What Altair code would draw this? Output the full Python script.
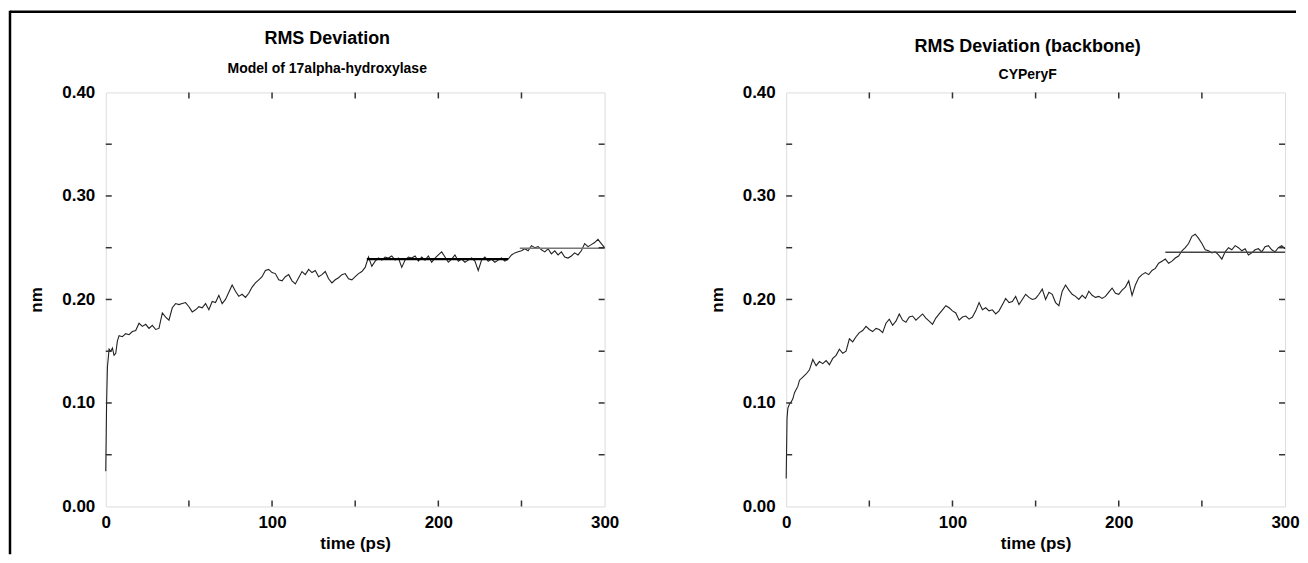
import altair as alt
import pandas as pd

# ---------------- data ----------------
T1 = [0, 0.5, 1, 2, 3, 4, 5, 6, 7, 8, 10, 12, 14, 16, 18, 20, 22, 24, 26, 28, 30,
      32, 34, 36, 38, 40, 42, 44, 46, 48, 50, 52, 54, 56, 58, 60, 62, 64, 66, 68, 70,
      72, 74, 76, 78, 80, 82, 84, 86, 88, 90, 92, 94, 96, 98, 100, 102, 104, 106, 108, 110,
      112, 114, 116, 118, 120, 122, 124, 126, 128, 130, 132, 134, 136, 138, 140, 142, 144, 146, 148, 150,
      152, 154, 156, 158, 160, 162, 164, 166, 168, 170, 172, 174, 176, 178, 180, 182, 184, 186, 188, 190,
      192, 194, 196, 198, 200, 202, 204, 206, 208, 210, 212, 214, 216, 218, 220, 222, 224, 226, 228, 230,
      232, 234, 236, 238, 240, 242, 244, 246, 248, 250, 252, 254, 256, 258, 260, 262, 264, 266, 268, 270,
      272, 274, 276, 278, 280, 282, 284, 286, 288, 290, 292, 294, 296, 298, 300]
V1 = [0.034, 0.100, 0.135, 0.152, 0.150, 0.153, 0.146, 0.148, 0.160, 0.165, 0.164, 0.167, 0.166, 0.169, 0.170, 0.177, 0.174, 0.176, 0.172, 0.175, 0.171,
      0.172, 0.187, 0.183, 0.180, 0.192, 0.196, 0.195, 0.196, 0.197, 0.193, 0.188, 0.190, 0.193, 0.192, 0.196, 0.190, 0.198, 0.197, 0.204, 0.196,
      0.200, 0.207, 0.214, 0.208, 0.203, 0.205, 0.202, 0.206, 0.212, 0.216, 0.219, 0.222, 0.228, 0.229, 0.226, 0.225, 0.219, 0.218, 0.222, 0.224,
      0.218, 0.215, 0.221, 0.227, 0.224, 0.229, 0.226, 0.228, 0.222, 0.224, 0.227, 0.220, 0.216, 0.219, 0.221, 0.224, 0.225, 0.220, 0.219, 0.222,
      0.225, 0.227, 0.231, 0.241, 0.232, 0.237, 0.240, 0.238, 0.241, 0.240, 0.242, 0.238, 0.240, 0.231, 0.238, 0.241, 0.240, 0.242, 0.237, 0.241,
      0.238, 0.242, 0.236, 0.240, 0.243, 0.246, 0.241, 0.236, 0.239, 0.243, 0.237, 0.239, 0.236, 0.238, 0.240, 0.237, 0.228, 0.238, 0.241, 0.237,
      0.239, 0.236, 0.238, 0.240, 0.237, 0.239, 0.243, 0.245, 0.246, 0.247, 0.249, 0.247, 0.252, 0.250, 0.251, 0.248, 0.246, 0.249, 0.244, 0.247,
      0.243, 0.246, 0.241, 0.240, 0.242, 0.245, 0.243, 0.247, 0.254, 0.251, 0.253, 0.255, 0.258, 0.254, 0.250]

T2 = [0, 0.5, 1, 2, 3, 4, 5, 6, 7, 8, 10, 12, 14, 16, 18, 20, 22, 24, 26, 28, 30,
      32, 34, 36, 38, 40, 42, 44, 46, 48, 50, 52, 54, 56, 58, 60, 62, 64, 66, 68, 70,
      72, 74, 76, 78, 80, 82, 84, 86, 88, 90, 92, 94, 96, 98, 100, 102, 104, 106, 108, 110,
      112, 114, 116, 118, 120, 122, 124, 126, 128, 130, 132, 134, 136, 138, 140, 142, 144, 146, 148, 150,
      152, 154, 156, 158, 160, 162, 164, 166, 168, 170, 172, 174, 176, 178, 180, 182, 184, 186, 188, 190,
      192, 194, 196, 198, 200, 202, 204, 206, 208, 210, 212, 214, 216, 218, 220, 222, 224, 226, 228, 230,
      232, 234, 236, 238, 240, 242, 244, 246, 248, 250, 252, 254, 256, 258, 260, 262, 264, 266, 268, 270,
      272, 274, 276, 278, 280, 282, 284, 286, 288, 290, 292, 294, 296, 298, 300]
V2 = [0.027, 0.085, 0.095, 0.099, 0.101, 0.104, 0.110, 0.113, 0.116, 0.122, 0.125, 0.128, 0.132, 0.142, 0.136, 0.140, 0.138, 0.141, 0.137, 0.143, 0.146,
      0.152, 0.148, 0.150, 0.162, 0.159, 0.164, 0.168, 0.170, 0.174, 0.171, 0.169, 0.172, 0.171, 0.168, 0.177, 0.181, 0.175, 0.179, 0.186, 0.180,
      0.178, 0.183, 0.184, 0.180, 0.183, 0.186, 0.182, 0.179, 0.176, 0.182, 0.186, 0.190, 0.194, 0.192, 0.189, 0.187, 0.180, 0.183, 0.184, 0.181,
      0.183, 0.189, 0.197, 0.190, 0.192, 0.189, 0.190, 0.186, 0.189, 0.195, 0.201, 0.197, 0.198, 0.203, 0.195, 0.200, 0.205, 0.202, 0.200, 0.201,
      0.205, 0.210, 0.200, 0.207, 0.205, 0.197, 0.194, 0.208, 0.214, 0.209, 0.205, 0.203, 0.200, 0.204, 0.201, 0.208, 0.204, 0.202, 0.203, 0.201,
      0.203, 0.207, 0.211, 0.206, 0.205, 0.209, 0.212, 0.218, 0.204, 0.214, 0.221, 0.224, 0.226, 0.224, 0.228, 0.230, 0.235, 0.237, 0.239, 0.235,
      0.237, 0.240, 0.242, 0.247, 0.250, 0.254, 0.261, 0.263, 0.259, 0.254, 0.248, 0.247, 0.245, 0.246, 0.243, 0.239, 0.246, 0.250, 0.248, 0.252,
      0.250, 0.247, 0.249, 0.243, 0.245, 0.248, 0.249, 0.246, 0.251, 0.252, 0.248, 0.246, 0.250, 0.252, 0.249]

# fitted plateau segments
FIT_A_T = [157, 242]
FIT_A_V = [0.239, 0.239]
FIT_B_T = [249, 300]
FIT_B_V = [0.2495, 0.2495]
FIT_C_T = [228, 300]
FIT_C_V = [0.2455, 0.2455]

X_LABELS = [0, 100, 200, 300]
Y_LABELS = [0.0, 0.1, 0.2, 0.3, 0.4]
X_TICKS = [50, 100, 150, 200, 250]
Y_TICKS = [0.05, 0.10, 0.15, 0.20, 0.25, 0.30, 0.35]

TITLES = ["RMS Deviation", "RMS Deviation (backbone)"]
SUBTITLES = ["Model of 17alpha-hydroxylase", "CYPeryF"]

FONT = "Liberation Sans"
W, H = 500, 415
TL = 6  # inward tick length

xs = alt.Scale(domain=[0, 300], nice=False, zero=False)
ys = alt.Scale(domain=[0, 0.4], nice=False, zero=False)

xaxis = alt.Axis(values=X_LABELS, title="time (ps)", domain=False, ticks=False, grid=False,
                 labelPadding=8, titlePadding=5, labelFontSize=17, titleFontSize=17,
                 labelFont=FONT, titleFont=FONT, labelFontWeight="bold", titleFontWeight="bold",
                 labelColor="black", titleColor="black", labelFlush=False)
yaxis = alt.Axis(values=Y_LABELS, format=".2f", title="nm", domain=False, ticks=False, grid=False,
                 labelPadding=11, titlePadding=16, labelFontSize=17, titleFontSize=17,
                 labelFont=FONT, titleFont=FONT, labelFontWeight="bold", titleFontWeight="bold",
                 labelColor="black", titleColor="black", labelFlush=False)


def panel(T, V, fits, idx, cx, ty, sy, border=False):
    df = pd.DataFrame({"t": T, "v": V})
    line = alt.Chart(df).mark_line(color="#222", strokeWidth=1.1, interpolate="linear").encode(
        x=alt.X("t:Q", scale=xs, axis=xaxis),
        y=alt.Y("v:Q", scale=ys, axis=yaxis),
    )
    layers = [line]
    for (ft, fv, col, sw) in fits:
        fdf = pd.DataFrame({"t": ft, "v": fv})
        layers.append(alt.Chart(fdf).mark_line(color=col, strokeWidth=sw).encode(
            x=alt.X("t:Q", scale=xs), y=alt.Y("v:Q", scale=ys)))
    ydf = pd.DataFrame({"v": Y_TICKS})
    xdf = pd.DataFrame({"t": X_TICKS})
    tick_style = dict(color="#333", strokeWidth=1.5)
    layers.append(alt.Chart(ydf).mark_rule(**tick_style).encode(
        y=alt.Y("v:Q", scale=ys), x=alt.value(0), x2=alt.value(TL)))
    layers.append(alt.Chart(ydf).mark_rule(**tick_style).encode(
        y=alt.Y("v:Q", scale=ys), x=alt.value(W - TL), x2=alt.value(W)))
    layers.append(alt.Chart(xdf).mark_rule(**tick_style).encode(
        x=alt.X("t:Q", scale=xs), y=alt.value(H - TL), y2=alt.value(H)))
    layers.append(alt.Chart(xdf).mark_rule(**tick_style).encode(
        x=alt.X("t:Q", scale=xs), y=alt.value(0), y2=alt.value(TL)))
    one = pd.DataFrame({"k": [0]})
    # titles as text marks
    layers.append(alt.Chart(one).mark_text(font=FONT, fontSize=18, fontWeight="bold", color="black",
                                           align="center", baseline="middle").encode(
        x=alt.value(cx), y=alt.value(ty), text=alt.value(TITLES[idx])))
    layers.append(alt.Chart(one).mark_text(font=FONT, fontSize=14, fontWeight="bold", color="black",
                                           align="center", baseline="middle").encode(
        x=alt.value(cx), y=alt.value(sy), text=alt.value(SUBTITLES[idx])))
    if border:
        layers.append(alt.Chart(one).mark_rule(color="black", strokeWidth=2.5).encode(
            x=alt.value(-96), x2=alt.value(1193), y=alt.value(-81)))
        layers.append(alt.Chart(one).mark_rule(color="black", strokeWidth=2.5).encode(
            x=alt.value(-96), y=alt.value(-82), y2=alt.value(463)))
    return alt.layer(*layers).properties(width=W, height=H)


left = panel(T1, V1, [(FIT_A_T, FIT_A_V, "black", 2.2), (FIT_B_T, FIT_B_V, "#777", 1.6)],
             0, 222, -54, -23, border=True)
right = panel(T2, V2, [(FIT_C_T, FIT_C_V, "#444", 1.5)], 1, 242, -46, -17)

chart = alt.hconcat(left, right, spacing=182, bounds="flush").properties(padding=0).configure_view(
    stroke="#999", strokeWidth=2, fill="white"
).configure(background="white")

chart.save("out.html", embed_options={"renderer": "svg", "actions": False})
